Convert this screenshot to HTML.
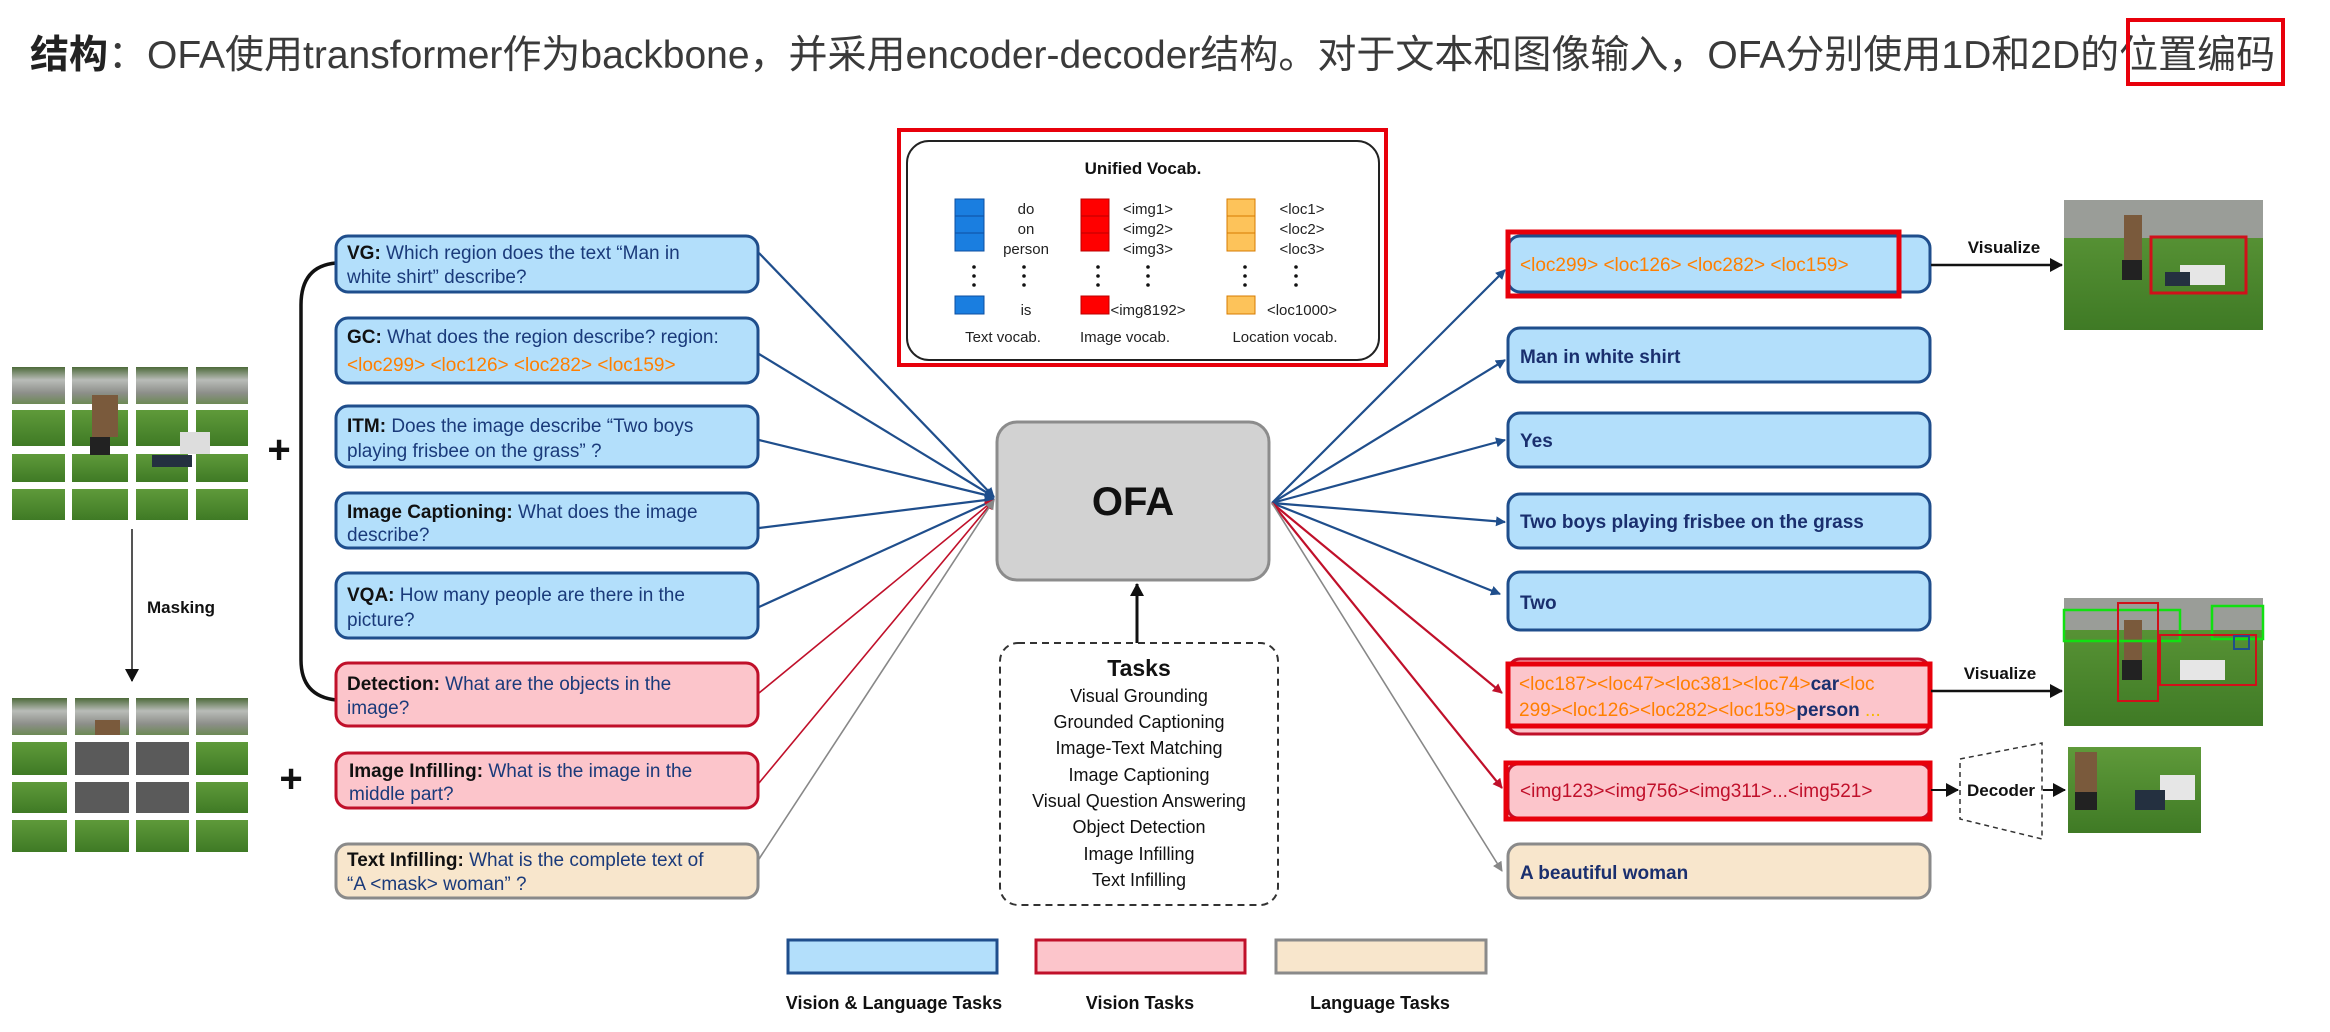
<!DOCTYPE html>
<html><head><meta charset="utf-8"><style>
html,body{margin:0;padding:0;background:#fff;width:2330px;height:1032px;overflow:hidden}
svg{display:block}
text{font-family:"Liberation Sans","Noto Sans CJK SC",sans-serif}
</style></head><body>
<svg width="2330" height="1032" viewBox="0 0 2330 1032" xmlns="http://www.w3.org/2000/svg">
<defs>
<marker id="an" markerWidth="10" markerHeight="10" refX="9" refY="5" orient="auto" markerUnits="userSpaceOnUse"><path d="M0,0 L10,5 L0,10 z" fill="#1f4e8c"/></marker>
<marker id="ar" markerWidth="10" markerHeight="10" refX="9" refY="5" orient="auto" markerUnits="userSpaceOnUse"><path d="M0,0 L10,5 L0,10 z" fill="#c0102a"/></marker>
<marker id="ag" markerWidth="10" markerHeight="10" refX="9" refY="5" orient="auto" markerUnits="userSpaceOnUse"><path d="M0,0 L10,5 L0,10 z" fill="#888"/></marker>
<marker id="ak" markerWidth="14" markerHeight="14" refX="12" refY="7" orient="auto" markerUnits="userSpaceOnUse"><path d="M0,0 L13,7 L0,14 z" fill="#111"/></marker>
<linearGradient id="grass" x1="0" y1="0" x2="0" y2="1"><stop offset="0" stop-color="#5f9a3a"/><stop offset="1" stop-color="#3f7a25"/></linearGradient>
<linearGradient id="park" x1="0" y1="0" x2="0" y2="1"><stop offset="0" stop-color="#4d6a3a"/><stop offset="0.35" stop-color="#b9bcb8"/><stop offset="0.7" stop-color="#8d8f8a"/><stop offset="1" stop-color="#6c8a55"/></linearGradient>
</defs>

<!-- Title -->
<text x="30" y="68" font-size="39" fill="#3a3a3a"><tspan font-weight="bold" fill="#222">结构</tspan>：OFA使用transformer作为backbone，并采用encoder-decoder结构。对于文本和图像输入，OFA分别使用1D和2D的位置编码</text>
<rect x="2128" y="20" width="155" height="64" fill="none" stroke="#e8000b" stroke-width="4"/>

<!-- Left image grids -->
<g>
<rect x="12" y="367" width="53" height="37" fill="url(#park)"/><rect x="72" y="367" width="56" height="37" fill="url(#park)"/><rect x="136" y="367" width="52" height="37" fill="url(#park)"/><rect x="196" y="367" width="52" height="37" fill="url(#park)"/>
<rect x="12" y="410" width="53" height="36" fill="url(#grass)"/><rect x="72" y="410" width="56" height="36" fill="url(#grass)"/><rect x="136" y="410" width="52" height="36" fill="url(#grass)"/><rect x="196" y="410" width="52" height="36" fill="url(#grass)"/>
<rect x="12" y="454" width="53" height="28" fill="url(#grass)"/><rect x="72" y="454" width="56" height="28" fill="url(#grass)"/><rect x="136" y="454" width="52" height="28" fill="url(#grass)"/><rect x="196" y="454" width="52" height="28" fill="url(#grass)"/>
<rect x="12" y="489" width="53" height="31" fill="url(#grass)"/><rect x="72" y="489" width="56" height="31" fill="url(#grass)"/><rect x="136" y="489" width="52" height="31" fill="url(#grass)"/><rect x="196" y="489" width="52" height="31" fill="url(#grass)"/>
<rect x="92" y="395" width="26" height="42" fill="#7a5a3c"/><rect x="90" y="437" width="20" height="18" fill="#222"/><rect x="152" y="455" width="40" height="12" fill="#243040"/><rect x="180" y="432" width="30" height="22" fill="#ddd"/>
</g>
<line x1="132" y1="529" x2="132" y2="681" stroke="#555" stroke-width="2" marker-end="url(#ak)"/>
<text x="147" y="613" font-size="17" font-weight="bold" fill="#111">Masking</text>
<g>
<rect x="12" y="698" width="55" height="37" fill="url(#park)"/><rect x="75" y="698" width="54" height="37" fill="url(#park)"/><rect x="136" y="698" width="53" height="37" fill="url(#park)"/><rect x="196" y="698" width="52" height="37" fill="url(#park)"/>
<rect x="12" y="742" width="55" height="33" fill="url(#grass)"/><rect x="75" y="742" width="54" height="33" fill="#5a5a5a"/><rect x="136" y="742" width="53" height="33" fill="#5a5a5a"/><rect x="196" y="742" width="52" height="33" fill="url(#grass)"/>
<rect x="12" y="782" width="55" height="31" fill="url(#grass)"/><rect x="75" y="782" width="54" height="31" fill="#5a5a5a"/><rect x="136" y="782" width="53" height="31" fill="#5a5a5a"/><rect x="196" y="782" width="52" height="31" fill="url(#grass)"/>
<rect x="12" y="820" width="55" height="32" fill="url(#grass)"/><rect x="75" y="820" width="54" height="32" fill="url(#grass)"/><rect x="136" y="820" width="53" height="32" fill="url(#grass)"/><rect x="196" y="820" width="52" height="32" fill="url(#grass)"/>
<rect x="95" y="720" width="25" height="15" fill="#7a5a3c"/>
</g>
<text x="279" y="463" font-size="40" font-weight="bold" text-anchor="middle" fill="#111">+</text>
<text x="291" y="792" font-size="40" font-weight="bold" text-anchor="middle" fill="#111">+</text>

<!-- Bracket -->
<path d="M336,263 Q301,266 301,305 L301,660 Q301,696 336,700" fill="none" stroke="#111" stroke-width="3.5"/>

<!-- Connectors left -->
<g stroke-width="2.2" fill="none">
<line x1="759" y1="253" x2="994" y2="497" stroke="#1f4e8c" marker-end="url(#an)"/>
<line x1="759" y1="354" x2="994" y2="497" stroke="#1f4e8c" marker-end="url(#an)"/>
<line x1="759" y1="440" x2="994" y2="497" stroke="#1f4e8c" marker-end="url(#an)"/>
<line x1="759" y1="528" x2="994" y2="499" stroke="#1f4e8c" marker-end="url(#an)"/>
<line x1="759" y1="607" x2="994" y2="500" stroke="#1f4e8c" marker-end="url(#an)"/>
<line x1="759" y1="693" x2="994" y2="500" stroke="#c0102a" stroke-width="1.6" marker-end="url(#ar)"/>
<line x1="759" y1="783" x2="994" y2="500" stroke="#c0102a" stroke-width="1.6" marker-end="url(#ar)"/>
<line x1="759" y1="859" x2="994" y2="500" stroke="#888" stroke-width="1.6" marker-end="url(#ag)"/>
</g>
<!-- Connectors right -->
<g stroke-width="2.2" fill="none">
<line x1="1272" y1="503" x2="1505" y2="270" stroke="#1f4e8c" marker-end="url(#an)"/>
<line x1="1272" y1="503" x2="1505" y2="360" stroke="#1f4e8c" marker-end="url(#an)"/>
<line x1="1272" y1="503" x2="1505" y2="440" stroke="#1f4e8c" marker-end="url(#an)"/>
<line x1="1272" y1="503" x2="1505" y2="522" stroke="#1f4e8c" marker-end="url(#an)"/>
<line x1="1272" y1="503" x2="1500" y2="594" stroke="#1f4e8c" marker-end="url(#an)"/>
<line x1="1272" y1="503" x2="1502" y2="693" stroke="#c0102a" marker-end="url(#ar)"/>
<line x1="1272" y1="503" x2="1502" y2="788" stroke="#c0102a" marker-end="url(#ar)"/>
<line x1="1272" y1="503" x2="1502" y2="871" stroke="#888" stroke-width="1.6" marker-end="url(#ag)"/>
</g>

<!-- Left boxes -->
<g font-size="19" fill="#1a3a7a">
<rect x="336" y="236" width="422" height="56" rx="12" fill="#b3dffb" stroke="#1f4e8c" stroke-width="3"/>
<text x="347" y="259"><tspan font-weight="bold" fill="#111">VG:</tspan> Which region does the text “Man in</text><text x="347" y="283">white shirt” describe?</text>
<rect x="336" y="318" width="422" height="65" rx="12" fill="#b3dffb" stroke="#1f4e8c" stroke-width="3"/>
<text x="347" y="343"><tspan font-weight="bold" fill="#111">GC:</tspan> What does the region describe? region:</text><text x="347" y="371" fill="#ff7f00">&lt;loc299&gt; &lt;loc126&gt; &lt;loc282&gt; &lt;loc159&gt;</text>
<rect x="336" y="406" width="422" height="61" rx="12" fill="#b3dffb" stroke="#1f4e8c" stroke-width="3"/>
<text x="347" y="432"><tspan font-weight="bold" fill="#111">ITM:</tspan> Does the image describe “Two boys</text><text x="347" y="457">playing frisbee on the grass” ?</text>
<rect x="336" y="493" width="422" height="55" rx="12" fill="#b3dffb" stroke="#1f4e8c" stroke-width="3"/>
<text x="347" y="518"><tspan font-weight="bold" fill="#111">Image Captioning:</tspan> What does the image</text><text x="347" y="541">describe?</text>
<rect x="336" y="573" width="422" height="65" rx="12" fill="#b3dffb" stroke="#1f4e8c" stroke-width="3"/>
<text x="347" y="601"><tspan font-weight="bold" fill="#111">VQA:</tspan> How many people are there in the</text><text x="347" y="626">picture?</text>
<rect x="336" y="663" width="422" height="63" rx="12" fill="#fcc5cb" stroke="#c0102a" stroke-width="3"/>
<text x="347" y="690"><tspan font-weight="bold" fill="#111">Detection:</tspan> What are the objects in the</text><text x="347" y="714">image?</text>
<rect x="336" y="753" width="422" height="55" rx="12" fill="#fcc5cb" stroke="#c0102a" stroke-width="3"/>
<text x="349" y="777"><tspan font-weight="bold" fill="#111">Image Infilling:</tspan> What is the image in the</text><text x="349" y="800">middle part?</text>
<rect x="336" y="844" width="422" height="54" rx="12" fill="#f8e6cc" stroke="#8a8a8a" stroke-width="3"/>
<text x="347" y="866"><tspan font-weight="bold" fill="#111">Text Infilling:</tspan> What is the complete text of</text><text x="347" y="890">“A &lt;mask&gt; woman” ?</text>
</g>

<!-- Unified vocab -->
<rect x="899" y="130" width="487" height="235" fill="none" stroke="#e8000b" stroke-width="4"/>
<rect x="907" y="141" width="472" height="219" rx="22" fill="#fff" stroke="#222" stroke-width="2"/>
<text x="1143" y="174" font-size="17" font-weight="bold" text-anchor="middle" fill="#111">Unified Vocab.</text>
<g font-size="15" fill="#222" text-anchor="middle">
<rect x="955" y="199" width="29" height="17" fill="#1a7ee0" stroke="#0d4fa0"/><rect x="955" y="216" width="29" height="17" fill="#1a7ee0" stroke="#0d4fa0"/><rect x="955" y="233" width="29" height="18" fill="#1a7ee0" stroke="#0d4fa0"/>
<rect x="955" y="296" width="29" height="18" fill="#1a7ee0" stroke="#0d4fa0"/>
<text x="1026" y="214">do</text><text x="1026" y="234">on</text><text x="1026" y="254">person</text><text x="1026" y="315">is</text>
<text x="1003" y="342">Text vocab.</text>
<rect x="1081" y="199" width="28" height="17" fill="#f00" stroke="#b00"/><rect x="1081" y="216" width="28" height="17" fill="#f00" stroke="#b00"/><rect x="1081" y="233" width="28" height="18" fill="#f00" stroke="#b00"/>
<rect x="1081" y="296" width="28" height="18" fill="#f00" stroke="#b00"/>
<text x="1148" y="214">&lt;img1&gt;</text><text x="1148" y="234">&lt;img2&gt;</text><text x="1148" y="254">&lt;img3&gt;</text><text x="1148" y="315">&lt;img8192&gt;</text>
<text x="1125" y="342">Image vocab.</text>
<rect x="1227" y="199" width="28" height="17" fill="#fdc35a" stroke="#d77b00"/><rect x="1227" y="216" width="28" height="17" fill="#fdc35a" stroke="#d77b00"/><rect x="1227" y="233" width="28" height="18" fill="#fdc35a" stroke="#d77b00"/>
<rect x="1227" y="296" width="28" height="18" fill="#fdc35a" stroke="#d77b00"/>
<text x="1302" y="214">&lt;loc1&gt;</text><text x="1302" y="234">&lt;loc2&gt;</text><text x="1302" y="254">&lt;loc3&gt;</text><text x="1302" y="315">&lt;loc1000&gt;</text>
<text x="1285" y="342">Location vocab.</text>
</g>
<g fill="#111">
<circle cx="974" cy="267" r="1.8"/><circle cx="974" cy="276" r="1.8"/><circle cx="974" cy="285" r="1.8"/>
<circle cx="1024" cy="267" r="1.8"/><circle cx="1024" cy="276" r="1.8"/><circle cx="1024" cy="285" r="1.8"/>
<circle cx="1098" cy="267" r="1.8"/><circle cx="1098" cy="276" r="1.8"/><circle cx="1098" cy="285" r="1.8"/>
<circle cx="1148" cy="267" r="1.8"/><circle cx="1148" cy="276" r="1.8"/><circle cx="1148" cy="285" r="1.8"/>
<circle cx="1245" cy="267" r="1.8"/><circle cx="1245" cy="276" r="1.8"/><circle cx="1245" cy="285" r="1.8"/>
<circle cx="1296" cy="267" r="1.8"/><circle cx="1296" cy="276" r="1.8"/><circle cx="1296" cy="285" r="1.8"/>
</g>

<!-- OFA -->
<rect x="997" y="422" width="272" height="158" rx="20" fill="#d2d2d2" stroke="#8c8c8c" stroke-width="3"/>
<text x="1133" y="515" font-size="40" font-weight="bold" text-anchor="middle" fill="#111">OFA</text>
<line x1="1137" y1="643" x2="1137" y2="584" stroke="#111" stroke-width="3" marker-end="url(#ak)"/>

<!-- Tasks -->
<rect x="1000" y="643" width="278" height="262" rx="18" fill="#fff" stroke="#333" stroke-width="2" stroke-dasharray="7,5"/>
<g text-anchor="middle" fill="#111">
<text x="1139" y="676" font-size="23" font-weight="bold">Tasks</text>
<g font-size="18">
<text x="1139" y="702">Visual Grounding</text>
<text x="1139" y="728">Grounded Captioning</text>
<text x="1139" y="754">Image-Text Matching</text>
<text x="1139" y="781">Image Captioning</text>
<text x="1139" y="807">Visual Question Answering</text>
<text x="1139" y="833">Object Detection</text>
<text x="1139" y="860">Image Infilling</text>
<text x="1139" y="886">Text Infilling</text>
</g></g>

<!-- Legend -->
<rect x="788" y="940" width="209" height="33" fill="#b3dffb" stroke="#1f4e8c" stroke-width="3"/>
<rect x="1036" y="940" width="209" height="33" fill="#fcc5cb" stroke="#c0102a" stroke-width="3"/>
<rect x="1276" y="940" width="210" height="33" fill="#f8e6cc" stroke="#8a8a8a" stroke-width="3"/>
<g font-size="18" font-weight="bold" fill="#111" text-anchor="middle">
<text x="894" y="1009">Vision &amp; Language Tasks</text>
<text x="1140" y="1009">Vision Tasks</text>
<text x="1380" y="1009">Language Tasks</text>
</g>

<!-- Right boxes -->
<g font-size="19" font-weight="bold" fill="#1a2f6e">
<rect x="1508" y="236" width="422" height="56" rx="12" fill="#b3dffb" stroke="#1f4e8c" stroke-width="3"/>
<rect x="1508" y="232" width="391" height="64" fill="none" stroke="#e8000b" stroke-width="5"/>
<text x="1520" y="271" fill="#ff7f00" font-weight="normal">&lt;loc299&gt; &lt;loc126&gt; &lt;loc282&gt; &lt;loc159&gt;</text>
<rect x="1508" y="328" width="422" height="54" rx="12" fill="#b3dffb" stroke="#1f4e8c" stroke-width="3"/>
<text x="1520" y="363">Man in white shirt</text>
<rect x="1508" y="413" width="422" height="54" rx="12" fill="#b3dffb" stroke="#1f4e8c" stroke-width="3"/>
<text x="1520" y="447">Yes</text>
<rect x="1508" y="494" width="422" height="54" rx="12" fill="#b3dffb" stroke="#1f4e8c" stroke-width="3"/>
<text x="1520" y="528">Two boys playing frisbee on the grass</text>
<rect x="1508" y="572" width="422" height="58" rx="12" fill="#b3dffb" stroke="#1f4e8c" stroke-width="3"/>
<text x="1520" y="609">Two</text>
<rect x="1508" y="659" width="422" height="75" rx="12" fill="#fcc5cb" stroke="#c0102a" stroke-width="3"/>
<rect x="1508" y="664" width="422" height="62" fill="none" stroke="#e8000b" stroke-width="5"/>
<text x="1519" y="690" font-weight="normal" fill="#ff7f00">&lt;loc187&gt;&lt;loc47&gt;&lt;loc381&gt;&lt;loc74&gt;<tspan fill="#1a2f6e" font-weight="bold">car</tspan>&lt;loc</text>
<text x="1519" y="716" font-weight="normal" fill="#ff7f00">299&gt;&lt;loc126&gt;&lt;loc282&gt;&lt;loc159&gt;<tspan fill="#1a2f6e" font-weight="bold">person</tspan> <tspan fill="#f5b800">...</tspan></text>
<rect x="1508" y="764" width="422" height="54" rx="10" fill="#fcc5cb" stroke="#c0102a" stroke-width="3"/>
<rect x="1506" y="763" width="424" height="56" fill="none" stroke="#e8000b" stroke-width="5"/>
<text x="1520" y="797" font-weight="normal" fill="#c0102a">&lt;img123&gt;&lt;img756&gt;&lt;img311&gt;...&lt;img521&gt;</text>
<rect x="1508" y="844" width="422" height="54" rx="12" fill="#f8e6cc" stroke="#8a8a8a" stroke-width="3"/>
<text x="1520" y="879">A beautiful woman</text>
</g>

<!-- Visualize 1 -->
<line x1="1931" y1="265" x2="2062" y2="265" stroke="#111" stroke-width="2.5" marker-end="url(#ak)"/>
<text x="2004" y="253" font-size="17" font-weight="bold" text-anchor="middle" fill="#111">Visualize</text>
<g>
<rect x="2064" y="200" width="199" height="130" fill="url(#grass)"/>
<rect x="2064" y="200" width="199" height="38" fill="#9a9d98"/>
<rect x="2124" y="215" width="18" height="45" fill="#7a5a3c"/><rect x="2122" y="260" width="20" height="20" fill="#222"/>
<rect x="2180" y="265" width="45" height="20" fill="#e6e6e6"/><rect x="2165" y="272" width="25" height="14" fill="#243040"/>
<rect x="2151" y="237" width="95" height="56" fill="none" stroke="#d0101a" stroke-width="3"/>
</g>
<!-- Visualize 2 -->
<line x1="1931" y1="691" x2="2062" y2="691" stroke="#111" stroke-width="2.5" marker-end="url(#ak)"/>
<text x="2000" y="679" font-size="17" font-weight="bold" text-anchor="middle" fill="#111">Visualize</text>
<g>
<rect x="2064" y="598" width="199" height="128" fill="url(#grass)"/>
<rect x="2064" y="598" width="199" height="32" fill="#9a9d98"/>
<rect x="2124" y="620" width="18" height="45" fill="#7a5a3c"/><rect x="2122" y="660" width="20" height="20" fill="#222"/>
<rect x="2180" y="660" width="45" height="20" fill="#e6e6e6"/>
<rect x="2064" y="610" width="116" height="31" fill="none" stroke="#11e011" stroke-width="2.5"/>
<rect x="2212" y="606" width="51" height="33" fill="none" stroke="#11e011" stroke-width="2.5"/>
<rect x="2118" y="603" width="40" height="98" fill="none" stroke="#d0101a" stroke-width="2"/>
<rect x="2160" y="635" width="96" height="50" fill="none" stroke="#d0101a" stroke-width="2"/>
<rect x="2234" y="636" width="15" height="13" fill="none" stroke="#1f4e8c" stroke-width="2"/>
</g>
<!-- Decoder -->
<line x1="1931" y1="790" x2="1958" y2="790" stroke="#111" stroke-width="2" marker-end="url(#ak)"/>
<path d="M1960,759 L2042,743 L2042,839 L1960,819 Z" fill="#fff" stroke="#333" stroke-width="1.5" stroke-dasharray="5,4"/>
<text x="2001" y="796" font-size="17" font-weight="bold" text-anchor="middle" fill="#111">Decoder</text>
<line x1="2043" y1="790" x2="2065" y2="790" stroke="#111" stroke-width="2" marker-end="url(#ak)"/>
<g>
<rect x="2068" y="747" width="133" height="86" fill="url(#grass)"/>
<rect x="2075" y="752" width="22" height="40" fill="#7a5a3c"/><rect x="2075" y="792" width="22" height="18" fill="#222"/>
<rect x="2160" y="775" width="35" height="25" fill="#e6e6e6"/><rect x="2135" y="790" width="30" height="20" fill="#243040"/>
</g>
</svg>
</body></html>
